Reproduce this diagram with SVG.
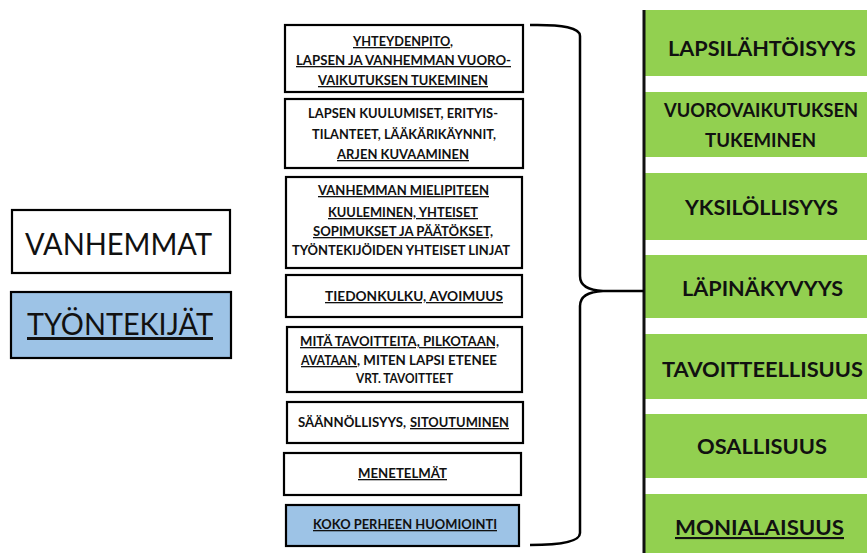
<svg xmlns="http://www.w3.org/2000/svg" width="867" height="553" viewBox="0 0 867 553">
<style>
.box{fill:#fff;stroke:#000;stroke-width:2.2}
.blue{fill:#9DC3E6;stroke:#000;stroke-width:2.2}
.green{fill:#92D050}
.t{font-family:Lato,"Liberation Sans",sans-serif;font-weight:bold;font-size:13px;fill:#111;text-anchor:start}
.g{font-family:Lato,"Liberation Sans",sans-serif;font-weight:bold;font-size:21px;fill:#111}
.g2{font-family:Lato,"Liberation Sans",sans-serif;font-weight:bold;font-size:18px;fill:#111}
.big{font-family:Lato,"Liberation Sans",sans-serif;font-size:30px;fill:#111}
.u{text-decoration:underline}
.conn{fill:none;stroke:#000;stroke-width:2.5}
</style>
<rect width="867" height="553" fill="#fff"/>

<g id="vanhemmat">
<rect class="box" x="12" y="210" width="218" height="63"/>
<text class="big" x="25" y="255" textLength="187" lengthAdjust="spacingAndGlyphs">VANHEMMAT</text>
</g>
<g id="tyontekijat">
<rect class="blue" x="11" y="292" width="220" height="66"/>
<text class="big u" x="27" y="335" textLength="186" lengthAdjust="spacingAndGlyphs">TYÖNTEKIJÄT</text>
</g>

<g id="box1">
<rect class="box" x="285" y="25" width="238" height="67"/>
<text class="t" x="353" y="46" textLength="100" lengthAdjust="spacingAndGlyphs"><tspan class="u">YHTEYDENPITO</tspan>,</text>
<text class="t u" x="296" y="65" textLength="215" lengthAdjust="spacingAndGlyphs">LAPSEN JA VANHEMMAN VUORO-</text>
<text class="t u" x="318" y="85" textLength="170" lengthAdjust="spacingAndGlyphs">VAIKUTUKSEN TUKEMINEN</text>
</g>
<g id="box2">
<rect class="box" x="285" y="99" width="238" height="69"/>
<text class="t" x="308" y="118" textLength="190" lengthAdjust="spacingAndGlyphs">LAPSEN KUULUMISET, ERITYIS-</text>
<text class="t" x="312" y="139" textLength="184" lengthAdjust="spacingAndGlyphs">TILANTEET, LÄÄKÄRIKÄYNNIT,</text>
<text class="t u" x="337" y="159" textLength="132" lengthAdjust="spacingAndGlyphs">ARJEN KUVAAMINEN</text>
</g>
<g id="box3">
<rect class="box" x="286" y="177" width="236" height="91"/>
<text class="t u" x="318" y="195" textLength="171" lengthAdjust="spacingAndGlyphs">VANHEMMAN MIELIPITEEN</text>
<text class="t u" x="328" y="217" textLength="150" lengthAdjust="spacingAndGlyphs">KUULEMINEN, YHTEISET</text>
<text class="t u" x="313" y="236" textLength="180" lengthAdjust="spacingAndGlyphs">SOPIMUKSET JA PÄÄTÖKSET,</text>
<text class="t" x="292" y="255" textLength="218" lengthAdjust="spacingAndGlyphs">TYÖNTEKIJÖIDEN YHTEISET LINJAT</text>
</g>
<g id="box4">
<rect class="box" x="286" y="275" width="236" height="42"/>
<text class="t u" x="325" y="301" textLength="178" lengthAdjust="spacingAndGlyphs">TIEDONKULKU, AVOIMUUS</text>
</g>
<g id="box5">
<rect class="box" x="287" y="327" width="235" height="65"/>
<text class="t u" x="300" y="346" textLength="199" lengthAdjust="spacingAndGlyphs">MITÄ TAVOITTEITA, PILKOTAAN,</text>
<text class="t u" x="301" y="365" textLength="56" lengthAdjust="spacingAndGlyphs">AVATAAN</text>
<text class="t" x="357" y="365" textLength="140" lengthAdjust="spacingAndGlyphs">, MITEN LAPSI ETENEE</text>
<text class="t" x="356" y="383" textLength="97" lengthAdjust="spacingAndGlyphs">VRT. TAVOITTEET</text>
</g>
<g id="box6">
<rect class="box" x="287" y="402" width="236" height="41"/>
<text class="t" x="298" y="427" textLength="108" lengthAdjust="spacingAndGlyphs">SÄÄNNÖLLISYYS,</text>
<text class="t u" x="410" y="427" textLength="99" lengthAdjust="spacingAndGlyphs">SITOUTUMINEN</text>
</g>
<g id="box7">
<rect class="box" x="284" y="453" width="237" height="42"/>
<text class="t u" x="358" y="478" textLength="89" lengthAdjust="spacingAndGlyphs">MENETELMÄT</text>
</g>
<g id="box8">
<rect class="blue" x="286" y="505" width="233" height="41"/>
<text class="t u" x="313" y="529" textLength="184" lengthAdjust="spacingAndGlyphs">KOKO PERHEEN HUOMIOINTI</text>
</g>

<g id="g1"><rect class="green" x="645" y="10" width="222" height="66"/>
<text class="g" x="668" y="56" textLength="188" lengthAdjust="spacingAndGlyphs">LAPSILÄHTÖISYYS</text></g>
<g id="g2"><rect class="green" x="645" y="92" width="222" height="65"/>
<text class="g2" x="664" y="117" textLength="194" lengthAdjust="spacingAndGlyphs">VUOROVAIKUTUKSEN</text>
<text class="g2" x="705" y="147" textLength="111" lengthAdjust="spacingAndGlyphs">TUKEMINEN</text></g>
<g id="g3"><rect class="green" x="645" y="173" width="222" height="67"/>
<text class="g" x="685" y="215" textLength="153" lengthAdjust="spacingAndGlyphs">YKSILÖLLISYYS</text></g>
<g id="g4"><rect class="green" x="645" y="255" width="222" height="63"/>
<text class="g" x="682" y="296" textLength="161" lengthAdjust="spacingAndGlyphs">LÄPINÄKYVYYS</text></g>
<g id="g5"><rect class="green" x="645" y="334" width="222" height="65"/>
<text class="g" x="662" y="377" textLength="201" lengthAdjust="spacingAndGlyphs">TAVOITTEELLISUUS</text></g>
<g id="g6"><rect class="green" x="645" y="414" width="222" height="64"/>
<text class="g" x="697" y="454" textLength="130" lengthAdjust="spacingAndGlyphs">OSALLISUUS</text></g>
<g id="g7"><rect class="green" x="645" y="494" width="222" height="59"/>
<text class="g u" x="675" y="535" textLength="169" lengthAdjust="spacingAndGlyphs">MONIALAISUUS</text></g>

<g id="connectors">
<line x1="644" y1="10" x2="644" y2="553" stroke="#111" stroke-width="3"/>
<path class="conn" d="M530,25 Q580,24 580,36 L580,276 Q580,290 603,291 L644,291 M603,291 Q580,292 580,306 L580,533 Q580,545 530,545"/>
</g>
</svg>
